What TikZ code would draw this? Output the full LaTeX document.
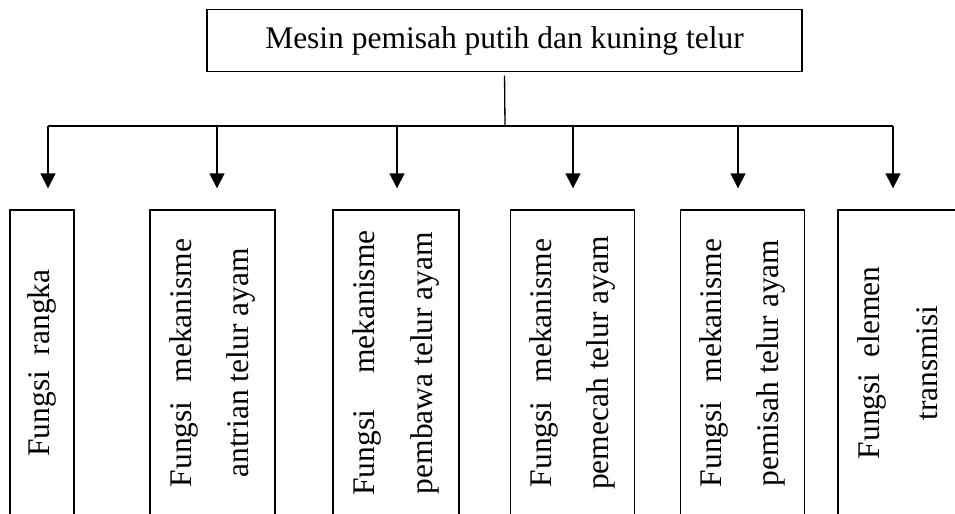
\documentclass[tikz,border=0pt]{standalone}
\usepackage{fontspec}
\setmainfont{Liberation Serif}
\usetikzlibrary{arrows.meta}

\begin{document}
\begin{tikzpicture}[x=0.381pt, y=-0.381pt, line width=0.5pt,
judul/.style={draw, minimum width=226.7pt, minimum height=23.8pt, inner sep=0pt, font=\fontsize{12pt}{14pt}\selectfont},
fungsi/.style={draw, rotate=90, align=center, minimum width=116.6pt, inner sep=0pt, font=\fontsize{12pt}{22pt}\selectfont},
panah/.style={-{Triangle[length=5.7pt, width=5.7pt]}, shorten >=8pt}]
\clip (0,0) rectangle (955,513);
\node[judul] (mesin) at (504.5,40.5) {Mesin pemisah putih dan kuning telur};
\node[fungsi, minimum height=24.4pt] (rangka) at (42,363) {Fungsi\ \ rangka};
\node[fungsi, minimum height=47.6pt] (antrian) at (212.5,363) {\makebox[94.5pt][s]{Fungsi mekanisme}\\antrian telur ayam};
\node[fungsi, minimum height=48pt] (pembawa) at (396,363) {\makebox[101pt][s]{Fungsi mekanisme}\\pembawa telur ayam};
\node[fungsi, minimum height=47.2pt] (pemecah) at (572.5,363) {\makebox[94.5pt][s]{Fungsi mekanisme}\\pemecah telur ayam};
\node[fungsi, minimum height=47.2pt] (pemisah) at (742.5,363) {\makebox[94.5pt][s]{Fungsi mekanisme}\\pemisah telur ayam};
\node[fungsi, minimum height=45.7pt] (transmisi) at (898,363) {Fungsi\ \ elemen\\transmisi};
\coordinate (cabang) at (505,126);
\draw[shorten <=1.2pt] (mesin.south) -- (cabang);
\draw (48,0 |- cabang) -- (893,0 |- cabang);
\foreach \x/\kotak in {48/rangka, 217/antrian, 397/pembawa, 573/pemecah, 738/pemisah, 893/transmisi} {
    \draw[panah] (\x,0 |- cabang) -- (\x,0 |- \kotak.east);
}
\end{tikzpicture}
\end{document}
